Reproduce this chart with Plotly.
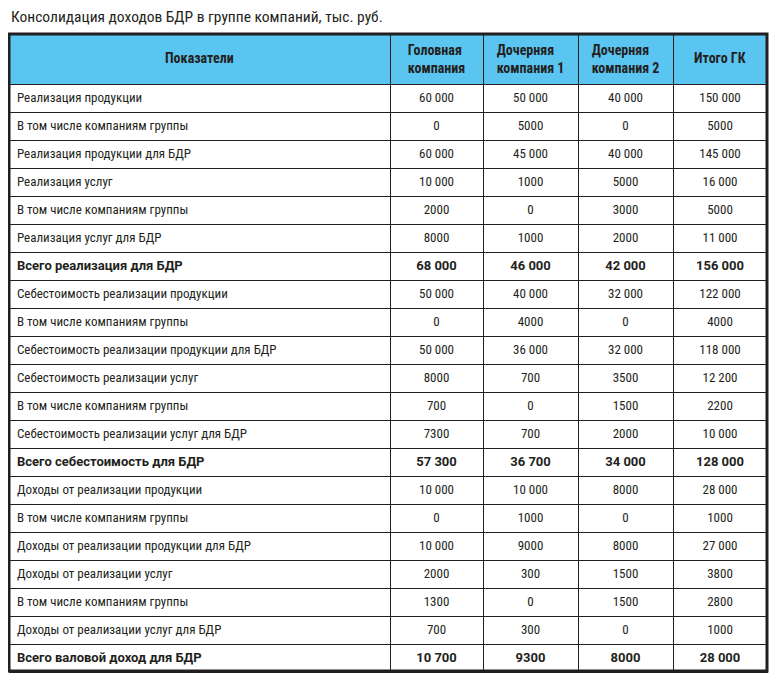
import plotly.graph_objects as go
import plotly.io as pio

title = "Консолидация доходов БДР в группе компаний, тыс. руб."
headers = ["Показатели", "Головная<br>компания", "Дочерняя<br>компания 1", "Дочерняя<br>компания 2", "Итого ГК"]
labels = [
    "Реализация продукции",
    "В том числе компаниям группы",
    "Реализация продукции для БДР",
    "Реализация услуг",
    "В том числе компаниям группы",
    "Реализация услуг для БДР",
    "Всего реализация для БДР",
    "Себестоимость реализации продукции",
    "В том числе компаниям группы",
    "Себестоимость реализации продукции для БДР",
    "Себестоимость реализации услуг",
    "В том числе компаниям группы",
    "Себестоимость реализации услуг для БДР",
    "Всего себестоимость для БДР",
    "Доходы от реализации продукции",
    "В том числе компаниям группы",
    "Доходы от реализации продукции для БДР",
    "Доходы от реализации услуг",
    "В том числе компаниям группы",
    "Доходы от реализации услуг для БДР",
    "Всего валовой доход для БДР",
]
head_co = [60000, 0, 60000, 10000, 2000, 8000, 68000, 50000, 0, 50000, 8000, 700, 7300, 57300,
           10000, 0, 10000, 2000, 1300, 700, 10700]
sub1 = [50000, 5000, 45000, 1000, 0, 1000, 46000, 40000, 4000, 36000, 700, 0, 700, 36700,
        10000, 1000, 9000, 300, 0, 300, 9300]
sub2 = [40000, 0, 40000, 5000, 3000, 2000, 42000, 32000, 0, 32000, 3500, 1500, 2000, 34000,
        8000, 0, 8000, 1500, 1500, 0, 8000]
total = [150000, 5000, 145000, 16000, 5000, 11000, 156000, 122000, 4000, 118000, 12200, 2200, 10000, 128000,
         28000, 1000, 27000, 3800, 2800, 1000, 28000]
bold_rows = [6, 13, 20]
colwidths = [381, 93, 95, 95, 94]


def fmt(v):
    if v >= 10000:
        return f"{v:,}".replace(",", " ")
    return str(v)


# page body has an 8px margin; figure sized to fit the 777x684 window
OFF = 8
W, H = 777 - OFF, 684 - OFF
HEAD_H, ROW_H = 49, 28
x0, x1 = 9 - OFF, 767 - OFF
y_top = 34 - OFF
y_bot = y_top + HEAD_H + ROW_H * len(labels)
FONT = "Liberation Sans Narrow, Roboto Condensed, DejaVu Sans Condensed, Arial Narrow, sans-serif"
BOLD_FONT = "Roboto, Liberation Sans, sans-serif"
INK = "#231F20"
FS = 13

multi = ["<br>" in h for h in headers]
header_vals = [f"<b>{h}</b>" if m else "" for h, m in zip(headers, multi)]
row_weight = ["bold" if i in bold_rows else "normal" for i in range(len(labels))]
row_family = [BOLD_FONT if i in bold_rows else FONT for i in range(len(labels))]

table = dict(
    type="table",
    domain=dict(x=[x0 / W, x1 / W], y=[max(0, 1 - (y_bot + 3) / H), 1 - y_top / H]),
    columnwidth=colwidths,
    header=dict(
        values=header_vals,
        fill=dict(color="#5BC5F2"),
        line=dict(color=INK, width=1),
        align="center",
        height=HEAD_H,
        font=dict(family=FONT, size=14, color=INK),
    ),
    cells=dict(
        values=[labels, [fmt(v) for v in head_co], [fmt(v) for v in sub1],
                [fmt(v) for v in sub2], [fmt(v) for v in total]],
        fill=dict(color="white"),
        line=dict(color=INK, width=1),
        align=["left", "center", "center", "center", "center"],
        height=ROW_H,
        font=dict(family=[row_family] * 5, size=FS, color=INK, weight=[row_weight] * 5),
    ),
)

annotations = []
shapes = []
# single-line header labels, vertically centred in the header row
tot_w = sum(colwidths)
cum = 0
for h, m, w in zip(headers, multi, colwidths):
    if not m:
        cx = x0 + (x1 - x0) * (cum + w / 2) / tot_w
        annotations.append(dict(text=f"<b>{h}</b>", xref="paper", yref="paper",
                                x=cx / W, y=1 - (y_top + HEAD_H / 2) / H,
                                xanchor="center", yanchor="middle", showarrow=False,
                                font=dict(family=FONT, size=14, color=INK)))
    cum += w

shapes.append(dict(type="rect", xref="paper", yref="paper",
                   x0=x0 / W, x1=x1 / W, y0=1 - y_bot / H, y1=1 - y_top / H,
                   line=dict(color=INK, width=3)))

annotations.append(dict(text=title, xref="paper", yref="paper", x=(9 - OFF) / W, y=1 - (17 - OFF) / H,
                        xanchor="left", yanchor="middle", showarrow=False,
                        font=dict(family=FONT, size=15.5, color=INK)))

layout = dict(width=W, height=H, margin=dict(l=0, r=0, t=0, b=0),
              paper_bgcolor="white", plot_bgcolor="white",
              annotations=annotations, shapes=shapes)

pio.write_html(dict(data=[table], layout=layout), "out.html", validate=False)
